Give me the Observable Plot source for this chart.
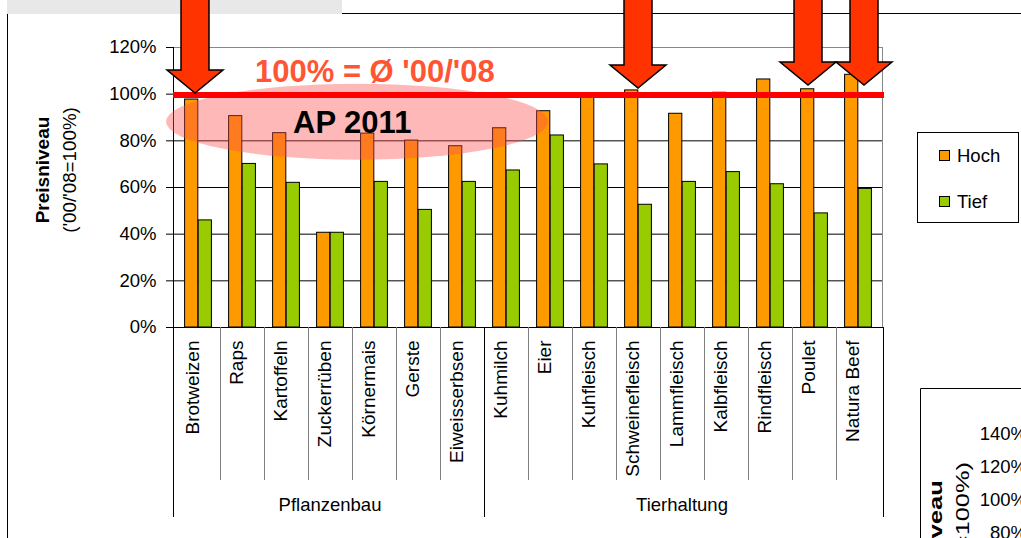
<!DOCTYPE html>
<html><head><meta charset="utf-8">
<script src="https://cdn.jsdelivr.net/npm/d3@7"></script>
<script src="https://cdn.jsdelivr.net/npm/@observablehq/plot@0.6"></script>
<style>html,body{margin:0;padding:0;background:#fff}svg{display:block}</style>
</head><body><div id="chart"></div>
<script>
// ---- data ----
const categories = ["Brotweizen","Raps","Kartoffeln","Zuckerrüben","Körnermais","Gerste","Eiweisserbsen","Kuhmilch","Eier","Kuhfleisch","Schweinefleisch","Lammfleisch","Kalbfleisch","Rindfleisch","Poulet","Natura Beef"];
const hoch = [97.7,90.6,83.3,40.6,83.1,80.1,77.7,85.4,92.7,99.0,101.6,91.6,100.6,106.3,102.1,108.3];
const tief = [45.9,70.1,62.0,40.6,62.4,50.4,62.4,67.3,82.3,69.9,52.6,62.4,66.6,61.4,48.9,59.4];
const seriesNames = ["Hoch","Tief"];
const groupNames = ["Pflanzenbau","Tierhaltung"];
const groupFirst = ["Brotweizen","Kuhmilch"];
const groupLast = ["Eiweisserbsen","Natura Beef"];
const yTicks = [0,20,40,60,80,100,120];
const gridValues = [20,40,60,80,100];
const referenceLevel = 99.4;
const arrowCats = ["Brotweizen","Schweinefleisch","Poulet","Natura Beef"];
const arrowTips = [100.3,102.4,103.7,103.7];
const yTitle = "Preisniveau";
const ySubtitle = "('00/'08=100%)";
const refLabel = "100% = Ø '00/'08";
const ellipseLabel = "AP 2011";
const panel2Ticks = ["140%","120%","100%","80%"];

// ---- styles / layout ----
const W = 1021, H = 538;
const mL = 173, mR = 138, mT = 47, mB = 211;
const colors = {Hoch: "#ff9900", Tief: "#99cc00"};
const FONT = "'Liberation Sans', Arial, sans-serif";
const step = (W - mL - mR) / categories.length;
const barW = 13.6;
const arrowDx = [-3, 0, -6, 6];

const rows = categories.flatMap((c, i) => [
  {cat: c, series: "Hoch", value: hoch[i]},
  {cat: c, series: "Tief", value: tief[i]}
]);

const plot = Plot.plot({
  width: W, height: H,
  marginLeft: mL, marginRight: mR, marginTop: mT, marginBottom: mB,
  style: {fontFamily: FONT, fontSize: "18.5px", background: "#fff", color: "#000"},
  x: {domain: categories, padding: 0, axis: null},
  y: {domain: [0, 120], ticks: yTicks, tickFormat: d => d + "%", tickSize: 7, tickPadding: 10, label: null},
  marks: [
    Plot.ruleY(gridValues, {stroke: "#000", strokeWidth: 1}),
    Plot.ruleY([120], {stroke: "#888", strokeWidth: 1}),
    Plot.barY(rows.filter(d => d.series === "Hoch"), {x: "cat", y: "value", fill: colors.Hoch, stroke: "#000", strokeWidth: 1,
      insetLeft: step / 2 - barW, insetRight: step / 2}),
    Plot.barY(rows.filter(d => d.series === "Tief"), {x: "cat", y: "value", fill: colors.Tief, stroke: "#000", strokeWidth: 1,
      insetLeft: step / 2, insetRight: step / 2 - barW}),
    Plot.ruleY([0], {stroke: "#000", strokeWidth: 1}),
    Plot.text(categories, {x: d => d, frameAnchor: "bottom", rotate: -90, textAnchor: "end", dy: 13, fontSize: 19, fill: "#000"})
  ]
});
document.getElementById("chart").appendChild(plot);

const svg = d3.select(plot);
const xs = plot.scale("x"), ys = plot.scale("y");
const bw = xs.bandwidth;
const xL = c => xs.apply(c);
const xC = c => xs.apply(c) + bw / 2;
const x0 = mL, x1 = W - mR, yBase = ys.apply(0), yTop = ys.apply(120);
const g = svg.append("g").attr("font-family", FONT).attr("text-anchor", "start");

// axis line + right border
g.append("line").attr("x1", x0 + 0.5).attr("x2", x0 + 0.5).attr("y1", yTop).attr("y2", yBase).attr("stroke", "#000");
g.append("line").attr("x1", x1 - 0.5).attr("x2", x1 - 0.5).attr("y1", yTop).attr("y2", yBase).attr("stroke", "#888");

// category separators
categories.forEach((c, i) => {
  if (i === 0) return;
  const isGroup = groupFirst.includes(c);
  g.append("line").attr("x1", Math.round(xL(c)) + 0.5).attr("x2", Math.round(xL(c)) + 0.5)
    .attr("y1", yBase).attr("y2", isGroup ? 517 : 480).attr("stroke", isGroup ? "#000" : "#808080");
});
[x0, x1].forEach(xx => g.append("line").attr("x1", Math.round(xx) + 0.5).attr("x2", Math.round(xx) + 0.5)
  .attr("y1", yBase).attr("y2", 517).attr("stroke", "#000"));
groupNames.forEach((n, i) => {
  const a = xL(groupFirst[i]), b = xL(groupLast[i]) + bw;
  g.append("text").attr("x", (a + b) / 2).attr("y", 511).attr("text-anchor", "middle").attr("font-size", 18.5).text(n);
});

// y titles
g.append("text").attr("transform", `translate(49,170) rotate(-90)`).attr("text-anchor", "middle")
  .attr("font-weight", "bold").attr("font-size", 19).text(yTitle);
g.append("text").attr("transform", `translate(76,170) rotate(-90)`).attr("text-anchor", "middle")
  .attr("font-size", 18.8).text(ySubtitle);

// frame decorations
g.append("rect").attr("x", 7).attr("y", 0).attr("width", 335).attr("height", 14).attr("fill", "#e8e8e8");
g.append("line").attr("x1", 342).attr("x2", W).attr("y1", 13.5).attr("y2", 13.5).attr("stroke", "#000");
g.append("line").attr("x1", 7.5).attr("x2", 7.5).attr("y1", 14).attr("y2", H).attr("stroke", "#000");

// legend
g.append("rect").attr("x", 917.5).attr("y", 132.5).attr("width", 101).attr("height", 90).attr("fill", "#fff").attr("stroke", "#000");
seriesNames.forEach((s, i) => {
  const yy = 150.5 + i * 46;
  g.append("rect").attr("x", 939.5).attr("y", yy).attr("width", 10).attr("height", 10).attr("fill", colors[s]).attr("stroke", "#000");
  g.append("text").attr("x", 957).attr("y", yy + 11).attr("text-anchor", "start").attr("font-size", 18.5).text(s);
});

// second (partial) panel
g.append("path").attr("d", `M920.5,${H} V388.5 H${W}`).attr("fill", "none").attr("stroke", "#000");
panel2Ticks.forEach((t, i) => {
  g.append("text").attr("x", 1027).attr("y", 440 + i * 33).attr("text-anchor", "end").attr("font-size", 18.5).text(t);
});
g.append("text").attr("transform", `translate(942,480) scale(1,1.35) rotate(-90)`).attr("text-anchor", "end")
  .attr("font-weight", "bold").attr("font-size", 19).text(yTitle);
g.append("text").attr("transform", `translate(969,462) scale(1,1.35) rotate(-90)`).attr("text-anchor", "end")
  .attr("font-size", 18.8).text(ySubtitle);

// annotation ellipse
const ecx = xL(categories[4]) + 5, ecy = ys.apply(88);
g.append("ellipse").attr("cx", ecx).attr("cy", ecy).attr("rx", 191).attr("ry", 38)
  .attr("fill", "#ff4d4d").attr("fill-opacity", 0.4);

// reference line
g.append("line").attr("x1", x0).attr("x2", x1 + 1).attr("y1", ys.apply(referenceLevel)).attr("y2", ys.apply(referenceLevel))
  .attr("stroke", "#ff0000").attr("stroke-width", 6);

// labels
g.append("text").attr("x", 255).attr("y", 82).attr("text-anchor", "start").attr("font-weight", "bold").attr("font-size", 31).attr("fill", "#ff5533").text(refLabel);
g.append("text").attr("x", 293).attr("y", 133).attr("text-anchor", "start").attr("font-weight", "bold").attr("font-size", 31).attr("fill", "#000").text(ellipseLabel);

// arrows
arrowCats.forEach((c, i) => {
  const tx = xC(c) + arrowDx[i], ty = ys.apply(arrowTips[i]);
  const d = `M${tx-14},-5 L${tx-14},${ty-23} L${tx-28},${ty-23} L${tx},${ty} L${tx+28},${ty-23} L${tx+14},${ty-23} L${tx+14},-5 Z`;
  g.append("path").attr("d", d).attr("fill", "#ff3300").attr("stroke", "#000").attr("stroke-width", 1.5).attr("stroke-linejoin", "miter");
});
</script>
</body></html>
